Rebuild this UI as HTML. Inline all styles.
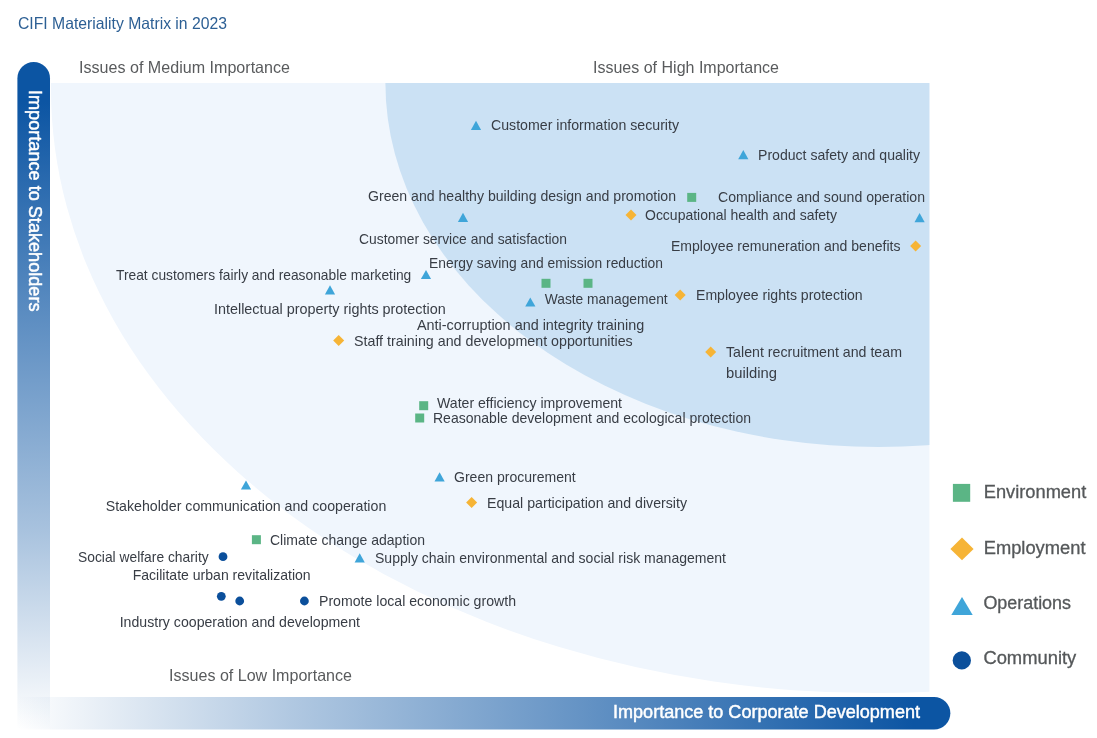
<!DOCTYPE html>
<html lang="en"><head><meta charset="utf-8"><title>CIFI Materiality Matrix in 2023</title>
<style>
html,body{margin:0;padding:0;background:#fff;}
body{width:1097px;height:738px;overflow:hidden;font-family:"Liberation Sans", sans-serif;}
svg{display:block;}
text{font-family:"Liberation Sans", sans-serif;}
.lb{font-size:14.4px;fill:#383d45;}
.zone{font-size:16.5px;fill:#595b5d;}
.lg{font-size:17.5px;fill:#55585a;stroke:#55585a;stroke-width:0.3px;}
.ax{font-size:17.5px;fill:#fff;stroke:#fff;stroke-width:0.45px;}
.ttl{font-size:16.5px;fill:#2c5f94;}
</style></head><body>
<svg width="1097" height="738" viewBox="0 0 1097 738">
<defs>
<linearGradient id="gv" x1="0" y1="0" x2="0" y2="1">
<stop offset="0" stop-color="#0c55a3"/><stop offset="0.06" stop-color="#0c55a3"/><stop offset="0.35" stop-color="#0c55a3" stop-opacity="0.70"/><stop offset="0.7" stop-color="#0c55a3" stop-opacity="0.36"/><stop offset="1" stop-color="#0c55a3" stop-opacity="0"/>
</linearGradient>
<linearGradient id="gh" x1="0" y1="0" x2="1" y2="0">
<stop offset="0" stop-color="#0c55a3" stop-opacity="0"/><stop offset="0.3" stop-color="#0c55a3" stop-opacity="0.33"/><stop offset="0.65" stop-color="#0c55a3" stop-opacity="0.68"/><stop offset="0.96" stop-color="#0c55a3"/><stop offset="1" stop-color="#0c55a3"/>
</linearGradient>
<clipPath id="plot"><rect x="50" y="83" width="879.4" height="614"/></clipPath>
</defs>
<rect width="1097" height="738" fill="#fff"/>
<g clip-path="url(#plot)">
<ellipse cx="874.5" cy="89" rx="823.5" ry="604.1" fill="#f0f6fd"/>
<ellipse cx="878.5" cy="82.8" rx="493.1" ry="364.2" fill="#cbe1f4"/>
</g>
<path d="M17.4 729.5 V78.2 a16.3 16.3 0 0 1 32.6 0 V729.5 Z" fill="url(#gv)"/>
<path d="M17.4 697 H934.1 a16.25 16.25 0 0 1 0 32.5 H17.4 Z" fill="url(#gh)"/>

<text class="ttl" x="18" y="28.5" textLength="209" lengthAdjust="spacingAndGlyphs">CIFI Materiality Matrix in 2023</text>
<text class="zone" x="79" y="73" textLength="211" lengthAdjust="spacingAndGlyphs">Issues of Medium Importance</text>
<text class="zone" x="593" y="73" textLength="186" lengthAdjust="spacingAndGlyphs">Issues of High Importance</text>
<text class="zone" x="169" y="681" textLength="183" lengthAdjust="spacingAndGlyphs">Issues of Low Importance</text>
<text class="ax" x="613" y="718" textLength="307" lengthAdjust="spacingAndGlyphs">Importance to Corporate Development</text>
<g transform="translate(29,90) rotate(90)"><text class="ax" x="0" y="0" textLength="221.5" lengthAdjust="spacingAndGlyphs">Importance to Stakeholders</text></g>
<polygon points="476,120.7 481.1,129.9 470.9,129.9" fill="#3fa5d9"/>
<polygon points="743.3,150.0 748.4,159.2 738.1999999999999,159.2" fill="#3fa5d9"/>
<rect x="687.2" y="192.9" width="9.0" height="9.0" fill="#5bb585"/>
<polygon points="463,212.70000000000002 468.1,221.9 457.9,221.9" fill="#3fa5d9"/>
<polygon points="631,209.5 636.5,215 631,220.5 625.5,215" fill="#f6b436"/>
<polygon points="919.6,213.0 924.7,222.2 914.5,222.2" fill="#3fa5d9"/>
<polygon points="915.6,240.4 921.1,245.9 915.6,251.4 910.1,245.9" fill="#f6b436"/>
<polygon points="426,269.9 431.1,279.1 420.9,279.1" fill="#3fa5d9"/>
<rect x="541.5" y="278.8" width="9.0" height="9.0" fill="#5bb585"/>
<rect x="583.5" y="278.8" width="9.0" height="9.0" fill="#5bb585"/>
<polygon points="330,285.2 335.1,294.40000000000003 324.9,294.40000000000003" fill="#3fa5d9"/>
<polygon points="530.3,297.4 535.4,306.6 525.1999999999999,306.6" fill="#3fa5d9"/>
<polygon points="680.2,289.5 685.7,295 680.2,300.5 674.7,295" fill="#f6b436"/>
<polygon points="338.7,334.9 344.2,340.4 338.7,345.9 333.2,340.4" fill="#f6b436"/>
<polygon points="710.7,346.5 716.2,352 710.7,357.5 705.2,352" fill="#f6b436"/>
<rect x="419.2" y="401.2" width="9.0" height="9.0" fill="#5bb585"/>
<rect x="415.2" y="413.5" width="9.0" height="9.0" fill="#5bb585"/>
<polygon points="246,480.4 251.1,489.6 240.9,489.6" fill="#3fa5d9"/>
<polygon points="439.6,472.2 444.70000000000005,481.40000000000003 434.5,481.40000000000003" fill="#3fa5d9"/>
<polygon points="471.6,497.1 477.1,502.6 471.6,508.1 466.1,502.6" fill="#f6b436"/>
<rect x="251.89999999999998" y="535.2" width="9.0" height="9.0" fill="#5bb585"/>
<circle cx="223" cy="556.7" r="4.4" fill="#0b4f9b"/>
<polygon points="359.7,553.1999999999999 364.8,562.4 354.59999999999997,562.4" fill="#3fa5d9"/>
<circle cx="221.3" cy="596.3" r="4.4" fill="#0b4f9b"/>
<circle cx="239.7" cy="601" r="4.4" fill="#0b4f9b"/>
<circle cx="304.4" cy="601" r="4.4" fill="#0b4f9b"/>
<text class="lb" x="491" y="130" textLength="188" lengthAdjust="spacingAndGlyphs">Customer information security</text>
<text class="lb" x="758" y="160" textLength="162" lengthAdjust="spacingAndGlyphs">Product safety and quality</text>
<text class="lb" x="368" y="201" textLength="308" lengthAdjust="spacingAndGlyphs">Green and healthy building design and promotion</text>
<text class="lb" x="718" y="202" textLength="207" lengthAdjust="spacingAndGlyphs">Compliance and sound operation</text>
<text class="lb" x="645" y="220" textLength="192" lengthAdjust="spacingAndGlyphs">Occupational health and safety</text>
<text class="lb" x="359" y="244" textLength="208" lengthAdjust="spacingAndGlyphs">Customer service and satisfaction</text>
<text class="lb" x="671" y="251" textLength="229.5" lengthAdjust="spacingAndGlyphs">Employee remuneration and benefits</text>
<text class="lb" x="429" y="268" textLength="234" lengthAdjust="spacingAndGlyphs">Energy saving and emission reduction</text>
<text class="lb" x="116" y="280" textLength="295.3" lengthAdjust="spacingAndGlyphs">Treat customers fairly and reasonable marketing</text>
<text class="lb" x="544.7" y="304" textLength="123.0" lengthAdjust="spacingAndGlyphs">Waste management</text>
<text class="lb" x="696" y="300" textLength="166.70000000000005" lengthAdjust="spacingAndGlyphs">Employee rights protection</text>
<text class="lb" x="214" y="314" textLength="231.7" lengthAdjust="spacingAndGlyphs">Intellectual property rights protection</text>
<text class="lb" x="417" y="330" textLength="227.29999999999995" lengthAdjust="spacingAndGlyphs">Anti-corruption and integrity training</text>
<text class="lb" x="354" y="346" textLength="278.70000000000005" lengthAdjust="spacingAndGlyphs">Staff training and development opportunities</text>
<text class="lb" x="726" y="357" textLength="176" lengthAdjust="spacingAndGlyphs">Talent recruitment and team</text>
<text class="lb" x="726" y="378" textLength="51" lengthAdjust="spacingAndGlyphs">building</text>
<text class="lb" x="437" y="408" textLength="185" lengthAdjust="spacingAndGlyphs">Water efficiency improvement</text>
<text class="lb" x="433" y="423" textLength="318" lengthAdjust="spacingAndGlyphs">Reasonable development and ecological protection</text>
<text class="lb" x="454" y="482" textLength="121.70000000000005" lengthAdjust="spacingAndGlyphs">Green procurement</text>
<text class="lb" x="105.7" y="511" textLength="280.6" lengthAdjust="spacingAndGlyphs">Stakeholder communication and cooperation</text>
<text class="lb" x="487" y="508" textLength="200" lengthAdjust="spacingAndGlyphs">Equal participation and diversity</text>
<text class="lb" x="270" y="545" textLength="155" lengthAdjust="spacingAndGlyphs">Climate change adaption</text>
<text class="lb" x="78" y="562" textLength="130.7" lengthAdjust="spacingAndGlyphs">Social welfare charity</text>
<text class="lb" x="375" y="563" textLength="351" lengthAdjust="spacingAndGlyphs">Supply chain environmental and social risk management</text>
<text class="lb" x="132.7" y="580" textLength="178.0" lengthAdjust="spacingAndGlyphs">Facilitate urban revitalization</text>
<text class="lb" x="319" y="606" textLength="197" lengthAdjust="spacingAndGlyphs">Promote local economic growth</text>
<text class="lb" x="119.7" y="627" textLength="240.3" lengthAdjust="spacingAndGlyphs">Industry cooperation and development</text>
<rect x="952.9" y="483.9" width="17.3" height="17.9" fill="#5bb585"/>
<polygon points="962,537.6 973.6,548.9 962,560.2 950.4,548.9" fill="#f6b436"/>
<polygon points="962,596.9 972.7,615.1 951.3,615.1" fill="#3fa5d9"/>
<circle cx="961.8" cy="660.4" r="9.15" fill="#0b4f9b"/>
<text class="lg" x="983.7" y="497.7" textLength="102.59999999999991" lengthAdjust="spacingAndGlyphs">Environment</text>
<text class="lg" x="983.7" y="553.7" textLength="101.79999999999995" lengthAdjust="spacingAndGlyphs">Employment</text>
<text class="lg" x="983.4" y="608.7" textLength="87.60000000000002" lengthAdjust="spacingAndGlyphs">Operations</text>
<text class="lg" x="983.4" y="664.4" textLength="92.89999999999998" lengthAdjust="spacingAndGlyphs">Community</text>
</svg></body></html>
